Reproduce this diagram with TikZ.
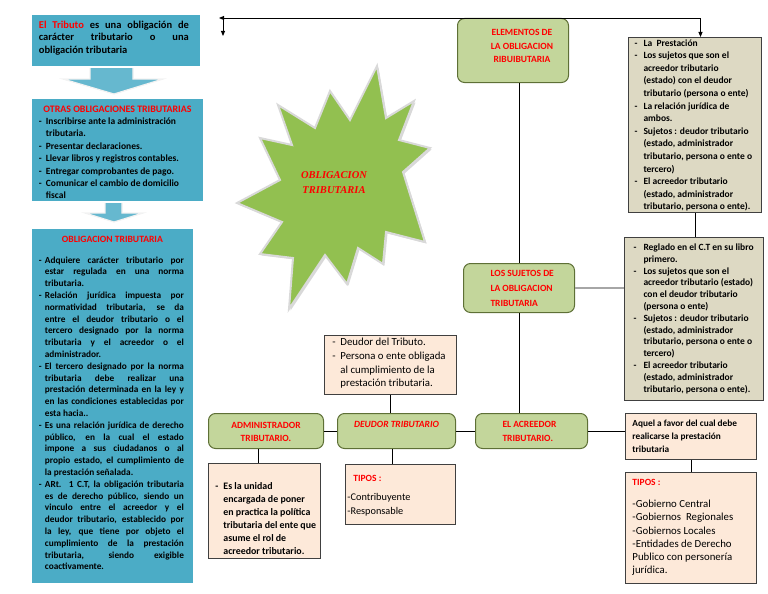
\documentclass[tikz,border=0pt]{standalone}
\usepackage{fontspec}
\setmainfont{Carlito}
\newfontfamily\timesf{Liberation Serif}
\usetikzlibrary{arrows.meta,shadows}
\definecolor{bluebox}{HTML}{4BACC6}
\definecolor{greenbox}{HTML}{C3D69B}
\definecolor{greenline}{HTML}{5E7036}
\definecolor{peach}{HTML}{FDE9D9}
\definecolor{tanbox}{HTML}{DDD9C3}
\definecolor{boxline}{HTML}{404040}
\definecolor{starg}{HTML}{92C050}
\definecolor{redt}{HTML}{FF0000}
\newlength\dw \newlength\tw
\newcommand\BX[4]{\begin{minipage}[c][#2][t]{#1}\parindent=0pt\parskip=0pt\vspace*{#3}\leavevmode\rule{0pt}{8pt}#4\end{minipage}}
\newcommand\Dj[1]{\makebox[\dw][l]{-}\makebox[\tw][s]{#1}\par}
\newcommand\Dn[1]{\makebox[\dw][l]{-}#1\par}
\newcommand\Cj[1]{\hspace*{\dw}\makebox[\tw][s]{#1}\par}
\newcommand\Cn[1]{\hspace*{\dw}#1\par}
\newcommand\Jl[1]{\makebox[\tw][s]{#1}\par}
\begin{document}
\begin{tikzpicture}[x=1pt,y=-1pt,
  bluebx/.style={fill=bluebox, draw=white, line width=1.8pt, inner sep=0pt, anchor=north west,
     drop shadow={shadow xshift=1.5pt, shadow yshift=-1.5pt, fill=black!40}},
  bluearrow/.style={fill=bluebox!85!white, draw=white!90!gray, line width=1.2pt},
  greenbx/.style={rounded corners=7pt, fill=greenbox, draw=greenline, line width=1pt, inner sep=0pt, anchor=north west,
     font=\bfseries\fontsize{9.5}{13}\selectfont},
  peachbx/.style={fill=peach, draw=boxline, line width=0.9pt, inner sep=0pt, anchor=north west},
  tanbx/.style={fill=tanbox, draw=boxline, line width=1pt, inner sep=0pt, anchor=north west,
     font=\bfseries\fontsize{9.5}{12.6}\selectfont},
  conn/.style={draw=black, line width=0.9pt},
  tip/.style={-{Triangle[length=5pt,width=4pt]}},
  grayconn/.style={draw=black!35, line width=1.8pt}]
\useasboundingbox (0,0) rectangle (768,594);

% star
\filldraw[fill=starg, draw=white!85!black, line width=2pt,
  drop shadow={shadow xshift=1.5pt, shadow yshift=-1.5pt, fill=black!30}]
  (377,66) -- (386,118) -- (414,101) -- (399,140) -- (430,148) -- (403,172) -- (425,242) -- (386,232)
  -- (383,264) -- (358,248) -- (347,284) -- (325,255) -- (289,309) -- (293,258) -- (260,254)
  -- (282,222) -- (237,203) -- (280,180) -- (260,138) -- (292,145) -- (278,105) -- (315,128)
  -- (330,91) -- (350,120) -- cycle;
\node[align=center, text=redt, font=\timesf\bfseries\itshape\fontsize{10.5}{15}\selectfont] (startext) at (334,183) {OBLIGACION\\TRIBUTARIA};

% callout arrows
\filldraw[bluearrow] (90,64) -- (90,79) -- (63,79) -- (114,94) -- (163,79) -- (133,79) -- (133,64) -- cycle;
\filldraw[bluearrow] (105,199) -- (105,213) -- (85,213) -- (114,222) -- (143,213) -- (122,213) -- (122,199) -- cycle;

% blue boxes
\node[bluebx, font=\bfseries\fontsize{10.5}{12.5}\selectfont] (b1) at (30,13) {\BX{170pt}{53pt}{6.2pt}{\leftskip=8pt\setlength\tw{150pt}%
\Jl{\textcolor{redt}{El Tributo} es una obligación de}%
\Jl{carácter tributario o una}%
obligación tributaria\par}};

\node[bluebx, font=\bfseries\fontsize{9.5}{12.4}\selectfont] (b2) at (30,97) {\BX{173pt}{104pt}{6.1pt}{\leftskip=8pt\setlength\dw{7pt}%
{\centering\fontsize{9.9}{12}\selectfont\color{redt}OTRAS OBLIGACIONES TRIBUTARIAS\par}%
\Dn{Inscribirse ante la administración}%
\Cn{tributaria.}%
\Dn{Presentar declaraciones.}%
\Dn{Llevar libros y registros contables.}%
\Dn{Entregar comprobantes de pago.}%
\Dn{Comunicar el cambio de domicilio}%
\Cn{fiscal}}};

\node[bluebx, font=\bfseries\fontsize{9.3}{11.8}\selectfont] (b3) at (30,227) {\BX{163pt}{356pt}{6.1pt}{\leftskip=8pt\setlength\dw{6pt}\setlength\tw{139pt}%
{\centering\fontsize{9.6}{12}\selectfont\color{redt}OBLIGACION TRIBUTARIA\par}%
\vspace{9.2pt}%
\Dj{Adquiere carácter tributario por}%
\Cj{estar regulada en una norma}%
\Cn{tributaria.}%
\Dj{Relación jurídica impuesta por}%
\Cj{normatividad tributaria, se da}%
\Cj{entre el deudor tributario o el}%
\Cj{tercero designado por la norma}%
\Cj{tributaria y el acreedor o el}%
\Cn{administrador.}%
\Dj{El tercero designado por la norma}%
\Cj{tributaria debe realizar una}%
\Cj{prestación determinada en la ley y}%
\Cj{en las condiciones establecidas por}%
\Cn{esta hacia..}%
\Dj{Es una relación jurídica de derecho}%
\Cj{público, en la cual el estado}%
\Cj{impone a sus ciudadanos o al}%
\Cj{propio estado, el cumplimiento de}%
\Cn{la prestación señalada.}%
\Dj{ARt. 1 C.T, la obligación tributaria}%
\Cj{es de derecho público, siendo un}%
\Cj{vinculo entre el acreedor y el}%
\Cj{deudor tributario, establecido por}%
\Cj{la ley, que tiene por objeto el}%
\Cj{cumplimiento de la prestación}%
\Cj{tributaria, siendo exigible}%
\Cn{coactivamente.}}};

% green boxes
\node[greenbx, font=\bfseries\fontsize{9.5}{13.5}\selectfont] (elem) at (457,18) {\BX{111pt}{64pt}{9pt}{\centering\leftskip=18pt plus 1fil\color{redt}ELEMENTOS DE\par LA OBLIGACION\par RIBUIBUTARIA\par}};
\node[greenbx, font=\bfseries\fontsize{9.5}{15}\selectfont] (suj) at (463,263) {\BX{111pt}{49pt}{5.1pt}{\leftskip=27pt\color{redt}LOS SUJETOS DE\par LA OBLIGACION\par TRIBUTARIA\par}};
\node[greenbx] (adm) at (208,413) {\BX{115pt}{35pt}{7.1pt}{\centering\color{redt}ADMINISTRADOR\par TRIBUTARIO.\par}};
\node[greenbx] (deu) at (337,413) {\BX{118pt}{35pt}{6.1pt}{\centering\itshape\color{redt}DEUDOR TRIBUTARIO\par}};
\node[greenbx, font=\bfseries\fontsize{9.5}{14}\selectfont] (acre) at (475,413) {\BX{112pt}{35pt}{6.1pt}{\leftskip=27pt\color{redt}EL ACREEDOR\par TRIBUTARIO.\par}};

% tan boxes
\node[tanbx] (rt) at (628,37) {\BX{133pt}{175pt}{0.5pt}{\leftskip=6pt\setlength\dw{9pt}%
\Dn{La \ Prestación}%
\Dn{Los sujetos que son el}%
\Cn{acreedor tributario}%
\Cn{(estado) con el deudor}%
\Cn{tributario (persona o ente)}%
\Dn{La relación jurídica de}%
\Cn{ambos.}%
\Dn{Sujetos : deudor tributario}%
\Cn{(estado, administrador}%
\Cn{tributario, persona o ente o}%
\Cn{tercero)}%
\Dn{El acreedor tributario}%
\Cn{(estado, administrador}%
\Cn{tributario, persona o ente).}}};

\node[tanbx, font=\bfseries\fontsize{9.5}{11.8}\selectfont] (rm) at (624,237) {\BX{139pt}{163pt}{5pt}{\leftskip=9pt\setlength\dw{10pt}%
\Dn{Reglado en el C.T en su libro}%
\Cn{primero.}%
\Dn{Los sujetos que son el}%
\Cn{acreedor tributario (estado)}%
\Cn{con el deudor tributario}%
\Cn{(persona o ente)}%
\Dn{Sujetos : deudor tributario}%
\Cn{(estado, administrador}%
\Cn{tributario, persona o ente o}%
\Cn{tercero)}%
\Dn{El acreedor tributario}%
\Cn{(estado, administrador}%
\Cn{tributario, persona o ente).}}};

% peach boxes
\node[peachbx, font=\fontsize{10.8}{13.7}\selectfont] (dtop) at (324,335) {\BX{132pt}{59pt}{2.3pt}{\leftskip=8pt\setlength\dw{8pt}%
\Dn{Deudor del Tributo.}%
\Dn{Persona o ente obligada}%
\Cn{al cumplimiento de la}%
\Cn{prestación tributaria.}}};

\node[peachbx, font=\bfseries\fontsize{9.9}{13}\selectfont] (admd) at (208,463) {\BX{112pt}{95pt}{17.6pt}{\leftskip=7pt\setlength\dw{8pt}%
\Dn{Es la unidad}%
\Cn{encargada de poner}%
\Cn{en practica la política}%
\Cn{tributaria del ente que}%
\Cn{asume el rol de}%
\Cn{acreedor tributario.}}};

\node[peachbx, font=\bfseries\fontsize{9.5}{12}\selectfont] (dtip) at (345,464) {\BX{110pt}{60pt}{9.1pt}{\leftskip=8pt%
{\color{redt}TIPOS :}\par
\vspace{5.3pt}%
{\leftskip=2pt\mdseries\fontsize{10.3}{14}\selectfont -Contribuyente\par -Responsable\par}}};

\node[peachbx, font=\bfseries\fontsize{9.3}{12.7}\selectfont] (aq) at (625,413) {\BX{131pt}{46pt}{5.2pt}{\leftskip=7pt%
Aquel a favor del cual debe\par realicarse la prestación\par tributaria\par}};

\node[peachbx, font=\bfseries\fontsize{9.5}{12}\selectfont] (atip) at (625,472) {\BX{131pt}{111pt}{5pt}{\leftskip=7pt%
{\color{redt}TIPOS :}\par
\vspace{9.1pt}%
{\mdseries\fontsize{10.8}{13.2}\selectfont -Gobierno Central\par -Gobiernos \ Regionales\par -Gobiernos Locales\par -Entidades de Derecho\par Publico con personería\par jurídica.\par}}};

% connectors
\coordinate (tl) at (219,18);
\coordinate (va) at (223,19);
\coordinate (vb) at (223,36);
\draw[conn, tip] (elem.north) -- (tl);
\draw[conn, tip] (va) -- (vb);
\draw[conn, tip] (elem.north) -| ([xshift=5.5pt]rt.north);
\draw[conn] (suj.north |- elem.south) -- (suj.north);
\draw[conn] (rt.south) -- (rt.south |- rm.north);
\draw[grayconn] (suj.east) -- (suj.east -| rm.west);
\draw[conn] (suj.south) -- (suj.south |- acre.north);
\draw[conn] (dtop.south) -- (dtop.south |- deu.north);
\draw[conn] (adm.east) -- (deu.west);
\draw[conn] (deu.east) -- (acre.west);
\draw[conn] ([xshift=-4pt]deu.south) -- ([xshift=-4pt]deu.south |- dtip.north);
\draw[conn] ([xshift=-8pt]adm.south) -- ([xshift=-8pt]adm.south |- admd.north);
\draw[conn] (acre.east) -- (acre.east -| aq.west);
\draw[conn] (aq.south) -- (aq.south |- atip.north);
\end{tikzpicture}
\end{document}
